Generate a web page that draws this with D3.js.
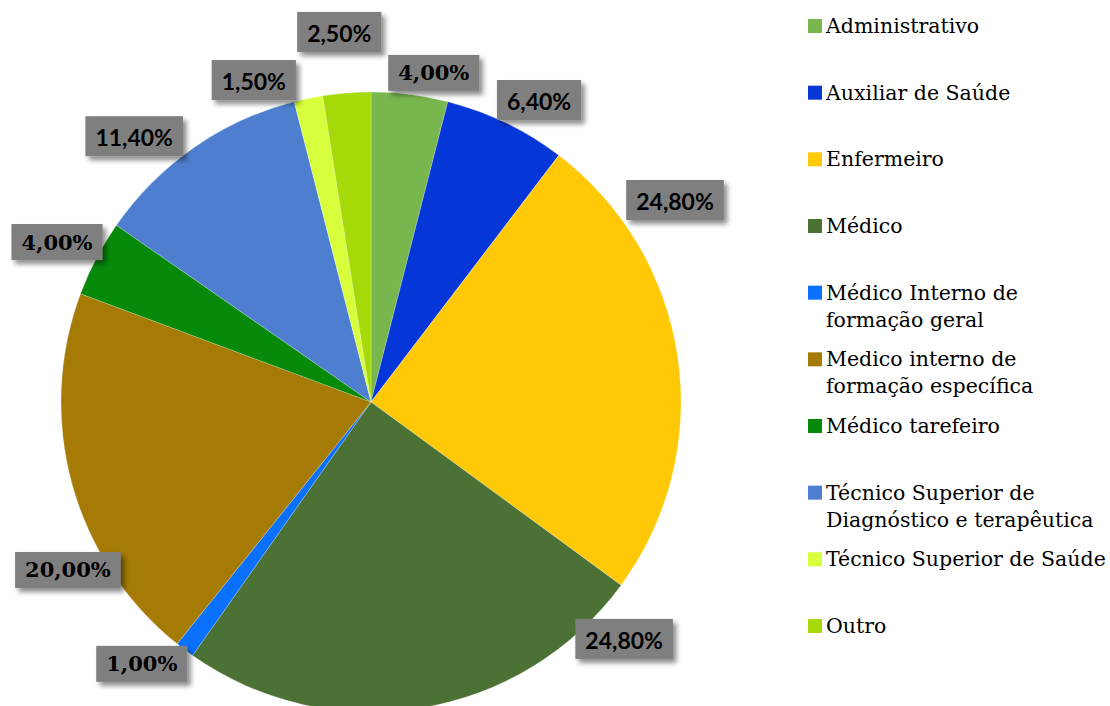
<!DOCTYPE html>
<html>
<head>
<meta charset="utf-8">
<script src="https://cdn.jsdelivr.net/npm/d3@7/dist/d3.min.js"></script>
<style>
  html, body { margin: 0; padding: 0; background: #fff; }
  svg { display: block; }
</style>
</head>
<body>
<svg id="chart" width="1110" height="706"></svg>
<script>
// ---- data ----
const categories = [
  "Administrativo",
  "Auxiliar de Saúde",
  "Enfermeiro",
  "Médico",
  "Médico Interno de formação geral",
  "Medico interno de formação específica",
  "Médico tarefeiro",
  "Técnico Superior de Diagnóstico e terapêutica",
  "Técnico Superior de Saúde",
  "Outro"
];
const values = [4.0, 6.4, 24.8, 24.8, 1.0, 20.0, 4.0, 11.4, 1.5, 2.5];
const valueLabels = ["4,00%", "6,40%", "24,80%", "24,80%", "1,00%", "20,00%", "4,00%", "11,40%", "1,50%", "2,50%"];
const legendLines = [
  ["Administrativo"],
  ["Auxiliar de Saúde"],
  ["Enfermeiro"],
  ["Médico"],
  ["Médico Interno de", "formação geral"],
  ["Medico interno de", "formação específica"],
  ["Médico tarefeiro"],
  ["Técnico Superior de", "Diagnóstico e terapêutica"],
  ["Técnico Superior de Saúde"],
  ["Outro"]
];

// ---- styles / layout ----
const colors = ["#78b64e", "#0536d8", "#ffc907", "#4b7234", "#0a70fe", "#a67b05", "#078a0a", "#4e7ecf", "#d8ff3b", "#a6d908"];
const labelSerif = [true, false, false, false, true, true, true, false, false, false];
// label placement: [angle in degrees clockwise from 12 o'clock, distance from centre]
const labelPlace = [[10.8, 335], [29.1, 345.6], [56.4, 365], [133.1, 346.7], [221.2, 348], [241.0, 346.5], [297.0, 352.4], [318.3, 356], [340.0, 342.6], [355.1, 371.4]];

const cx = 371, cy = 402, R = 310;
const svg = d3.select("#chart");

const defs = svg.append("defs");
const f = defs.append("filter").attr("id", "shadow").attr("x", "-30%").attr("y", "-30%").attr("width", "170%").attr("height", "180%");
f.append("feDropShadow").attr("dx", 3.5).attr("dy", 4).attr("stdDeviation", 2.5)
  .attr("flood-color", "#000").attr("flood-opacity", 0.45);

const pie = d3.pie().sort(null).value(d => d);
const arcs = pie(values);
const arc = d3.arc().innerRadius(0).outerRadius(R);

const g = svg.append("g").attr("transform", `translate(${cx},${cy})`);
g.selectAll("path.slice").data(arcs).enter().append("path")
  .attr("class", "slice")
  .attr("d", arc)
  .attr("fill", (d, i) => colors[i])
  .attr("stroke", "#ffffff")
  .attr("stroke-width", 0.5)
  .attr("stroke-opacity", 0.45);

// labels
const lab = svg.append("g");
arcs.forEach((d, i) => {
  const a = labelPlace[i][0] * Math.PI / 180, r = labelPlace[i][1];
  const x = cx + r * Math.sin(a), y = cy - r * Math.cos(a);
  const lg = lab.append("g").attr("transform", `translate(${x},${y})`);
  const rect = lg.append("rect").attr("fill", "#7f7f7f").attr("filter", "url(#shadow)");
  const t = lg.append("text")
    .attr("text-anchor", "middle")
    .attr("dominant-baseline", "central")
    .attr("font-weight", "bold")
    .attr("fill", "#000")
    .attr("font-family", labelSerif[i] ? "'DejaVu Serif', serif" : "Lato, 'Noto Sans', sans-serif")
    .attr("font-size", labelSerif[i] ? 21 : 23)
    .text(valueLabels[i]);
  const w = t.node().getComputedTextLength();
  const bw = w + 20, bh = labelSerif[i] ? 36 : 40;
  rect.attr("x", -bw / 2).attr("y", -bh / 2).attr("width", bw).attr("height", bh);
  if (!labelSerif[i]) t.attr("y", 1);
});

// legend
const leg = svg.append("g").attr("transform", "translate(808,0)");
const itemY = d3.scaleLinear().domain([0, categories.length - 1]).range([26, 626]);
categories.forEach((c, i) => {
  const y = itemY(i);
  leg.append("rect").attr("x", 0).attr("y", y - 7).attr("width", 14).attr("height", 14).attr("fill", colors[i]);
  const t = leg.append("text")
    .attr("x", 18).attr("y", y + 7)
    .attr("font-family", "'DejaVu Serif', serif")
    .attr("font-size", 20.5)
    .attr("fill", "#000");
  legendLines[i].forEach((ln, k) => {
    t.append("tspan").attr("x", 18).attr("dy", k === 0 ? 0 : 27).text(ln);
  });
});
</script>
</body>
</html>
